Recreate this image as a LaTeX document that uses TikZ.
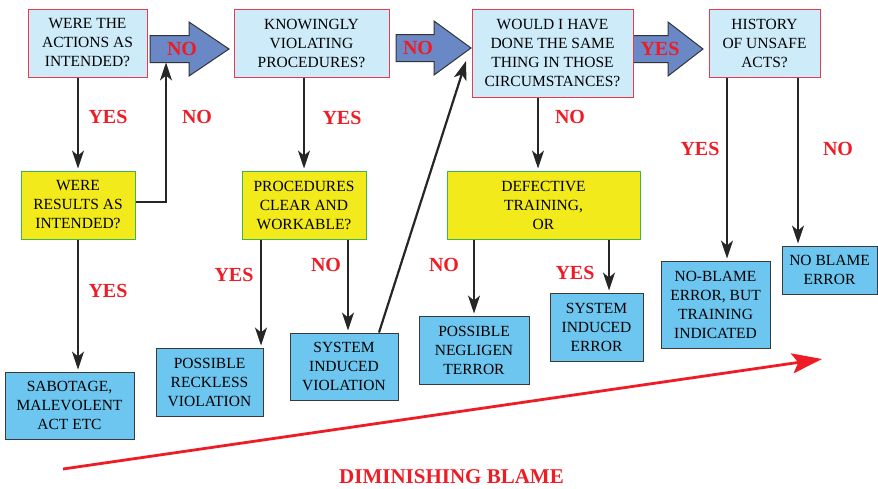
\documentclass[tikz,border=0pt]{standalone}
\usepackage{fontspec}
\setmainfont{Liberation Serif}
\usetikzlibrary{arrows.meta}
\definecolor{qfill}{HTML}{CDEBF9}
\definecolor{qborder}{HTML}{E83A4B}
\definecolor{yfill}{HTML}{F2EA1A}
\definecolor{yborder}{HTML}{3DB54A}
\definecolor{bfill}{HTML}{6CC6EF}
\definecolor{bborder}{HTML}{3A3A3A}
\definecolor{afill}{HTML}{6A87C6}
\definecolor{lblred}{HTML}{EE1C25}
\newcommand{\boxfont}{\fontsize{15.5}{19}\selectfont}
\tikzset{
  basebox/.style={line width=1pt, inner sep=0pt, align=center, font=\boxfont},
  qbox/.style={basebox, draw=qborder, fill=qfill},
  ybox/.style={basebox, draw=yborder, fill=yfill},
  bbox/.style={basebox, draw=bborder, fill=bfill},
  arr/.style={draw=black!85, line width=1.3pt, shorten >=2pt, -{Stealth[length=18pt,width=12pt,inset=5pt]}},
  blockarrow/.style={draw=black!80, line width=1pt, fill=afill},
  lbl/.style={text=lblred, font=\fontsize{20}{22}\selectfont\bfseries, inner sep=0pt},
}
\begin{document}
\begin{tikzpicture}[x=1pt,y=-1pt]
\useasboundingbox (0,0) rectangle (878,488);

% block arrows
\draw[blockarrow] (150,35.5) -- (189,35.5) -- (189,22) -- (229,49) -- (189,76) -- (189,62.5) -- (150,62.5) -- cycle;
\node[lbl] (n1) at (182,49) {NO};
\coordinate (a1bot) at (166,62.5);
\draw[blockarrow] (396,34.5) -- (434,34.5) -- (434,21) -- (471,48) -- (434,75) -- (434,61.5) -- (396,61.5) -- cycle;
\node[lbl] (n2) at (418,48) {NO};
\draw[blockarrow] (633,35.5) -- (668,35.5) -- (668,22) -- (703,49) -- (668,76) -- (668,62.5) -- (633,62.5) -- cycle;
\node[lbl] (n3) at (660,49) {YES};

% question boxes
\node[qbox, minimum width=119pt, minimum height=68pt] (q1) at (87.5,43) {WERE THE\\ACTIONS AS\\INTENDED?};
\node[qbox, minimum width=155pt, minimum height=68pt] (q2) at (311.5,43) {KNOWINGLY\\VIOLATING\\PROCEDURES?};
\node[qbox, minimum width=161pt, minimum height=88pt] (q3) at (552.5,53) {WOULD I HAVE\\DONE THE SAME\\THING IN THOSE\\CIRCUMSTANCES?};
\node[qbox, minimum width=111pt, minimum height=68pt] (q4) at (764.5,43) {HISTORY\\OF UNSAFE\\ACTS?};

% yellow boxes
\node[ybox, minimum width=114pt, minimum height=68pt] (y1) at (78,205) {WERE\\RESULTS AS\\INTENDED?};
\node[ybox, minimum width=124pt, minimum height=68pt] (y2) at (304,205) {PROCEDURES\\CLEAR AND\\WORKABLE?};
\node[ybox, minimum width=193pt, minimum height=68pt] (y3) at (543.5,205) {DEFECTIVE\\TRAINING,\\OR};

% blue outcome boxes
\node[bbox, minimum width=129pt, minimum height=67pt] (b1) at (69.5,405.5) {SABOTAGE,\\MALEVOLENT\\ACT ETC};
\node[bbox, minimum width=107pt, minimum height=68pt] (b2) at (209.5,382) {POSSIBLE\\RECKLESS\\VIOLATION};
\node[bbox, minimum width=108pt, minimum height=67pt] (b3) at (344,366.5) {SYSTEM\\INDUCED\\VIOLATION};
\node[bbox, minimum width=110pt, minimum height=68pt] (b4) at (474,350) {POSSIBLE\\NEGLIGEN\\TERROR};
\node[bbox, minimum width=93pt, minimum height=68pt] (b5) at (596.5,327) {SYSTEM\\INDUCED\\ERROR};
\node[bbox, minimum width=109pt, minimum height=87pt] (b6) at (715.5,304.5) {NO-BLAME\\ERROR, BUT\\TRAINING\\INDICATED};
\node[bbox, minimum width=95pt, minimum height=48pt] (b7) at (829.5,270) {NO BLAME\\ERROR};

% connector start points
\coordinate (s1) at ([yshift=3pt]y1.east);
\coordinate (s2a) at ([xshift=-43pt]y2.south);
\coordinate (s2b) at ([xshift=44pt]y2.south);
\coordinate (s3) at ([xshift=-14.5pt]q3.south);
\coordinate (s3a) at ([xshift=-69.5pt]y3.south);
\coordinate (s3b) at ([xshift=65.5pt]y3.south);
\coordinate (s4a) at ([xshift=-37.5pt]q4.south);
\coordinate (s4b) at ([xshift=33.5pt]q4.south);
\coordinate (b3top) at ([xshift=35pt]b3.north);
\coordinate (diagtip) at (466,61);

% connectors
\draw[arr] (q1.south -| y1.north) -- (y1.north);
\draw[arr, shorten >=0pt] (s1) -| (a1bot);
\draw[arr] (y1.south) -- (b1.north -| y1.south);
\draw[arr] (q2.south -| y2.north) -- (y2.north);
\draw[arr] (s2a) -- (b2.north -| s2a);
\draw[arr] (s2b) -- (b3.north -| s2b);
\draw[draw=black!85, line width=2.2pt, -{Stealth[length=19pt,width=13pt,inset=5pt]}] (b3top) -- (diagtip);
\draw[arr] (s3) -- (y3.north -| s3);
\draw[arr] (s3a) -- (b4.north -| s3a);
\draw[arr] (s3b) -- (b5.north -| s3b);
\draw[arr] (s4a) -- (b6.north -| s4a);
\draw[arr] (s4b) -- (b7.north -| s4b);

% labels
\node[lbl] (l1) at (108,117) {YES};
\node[lbl] (l2) at (197,117) {NO};
\node[lbl] (l3) at (108,291) {YES};
\node[lbl] (l4) at (342,118) {YES};
\node[lbl] (l5) at (234,275) {YES};
\node[lbl] (l6) at (326,265) {NO};
\node[lbl] (l7) at (570,117) {NO};
\node[lbl] (l8) at (444,265) {NO};
\node[lbl] (l9) at (575,273) {YES};
\node[lbl] (l10) at (700,149) {YES};
\node[lbl] (l11) at (838,149) {NO};

% diminishing blame
\coordinate (rstart) at (63,469);
\coordinate (rend) at (822,359);
\draw[draw=lblred, line width=2.8pt, -{Stealth[length=30pt,width=20pt,inset=6pt]}] (rstart) -- (rend);
\node[lbl, font=\fontsize{21}{23}\selectfont\bfseries] (dim) at (451.5,477) {DIMINISHING BLAME};
\end{tikzpicture}
\end{document}
